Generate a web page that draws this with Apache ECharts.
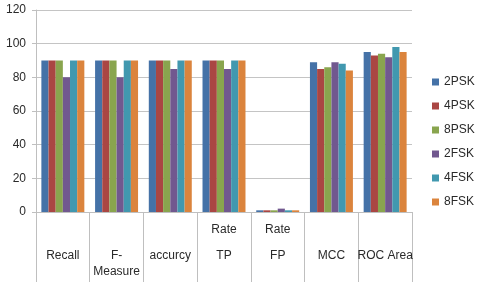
<!DOCTYPE html>
<html><head><meta charset="utf-8">
<script src="https://cdn.jsdelivr.net/npm/echarts@6/dist/echarts.min.js"></script>
<style>html,body{margin:0;padding:0;background:#fff}#c{width:480px;height:286px}</style>
</head><body><div id="c"></div>
<script>
var categories = ['Recall', 'F-Measure', 'accurcy', 'TP Rate', 'FP Rate', 'MCC', 'ROC Area'];
var yTicks = [0, 20, 40, 60, 80, 100, 120];
var s2PSK = [90, 90, 90, 90, 1, 89, 95];
var s4PSK = [90, 90, 90, 90, 1, 85, 93];
var s8PSK = [90, 90, 90, 90, 1, 86, 94];
var s2FSK = [80, 80, 85, 85, 2, 89, 92];
var s4FSK = [90, 90, 90, 90, 1, 88, 98];
var s8FSK = [90, 90, 90, 90, 1, 84, 95];
var seriesNames = ['2PSK', '4PSK', '8PSK', '2FSK', '4FSK', '8FSK'];
var seriesData = [s2PSK, s4PSK, s8PSK, s2FSK, s4FSK, s8FSK];
var colors = ['#4572A7', '#AA4643', '#89A54E', '#71588F', '#4198AF', '#DB843D'];

var FONT = '"Liberation Sans", Arial, sans-serif';
var TXT = '#2a2a2a';
var labelMap = {
  'Recall': '{b| }\n{c|Recall}',
  'F-Measure': '{b| }\n{c|F-}\n{c|Measure}',
  'accurcy': '{b| }\n{c|accurcy}',
  'TP Rate': '{a|Rate}\n{a|TP}',
  'FP Rate': '{a|Rate}\n{a|FP}',
  'MCC': '{b| }\n{c|MCC}',
  'ROC Area': '{b| }\n{c|ROC Area}'
};

var chart = echarts.init(document.getElementById('c'), null, {renderer: 'canvas'});
chart.setOption({
  animation: false,
  color: colors,
  grid: {left: 36, right: 68, top: 10, bottom: 74},
  legend: {
    orient: 'vertical', left: 432, top: 75, padding: 0,
    itemWidth: 7, itemHeight: 7, itemGap: 10, itemTextGap: 5,
    icon: 'rect',
    textStyle: {fontFamily: FONT, fontSize: 12, color: TXT, lineHeight: 14},
    data: seriesNames
  },
  xAxis: {
    type: 'category', data: categories, boundaryGap: true,
    axisLine: {lineStyle: {color: '#bfbfbf'}},
    axisTick: {show: true, length: 70, interval: 0, lineStyle: {color: '#bfbfbf'}},
    axisLabel: {
      interval: 0, margin: 5, color: TXT, fontFamily: FONT, fontSize: 12,
      formatter: function (v) { return labelMap[v] || v; },
      rich: {
        a: {lineHeight: 26, fontFamily: FONT, fontSize: 12, color: TXT},
        b: {lineHeight: 31, fontFamily: FONT, fontSize: 12},
        c: {lineHeight: 16, fontFamily: FONT, fontSize: 12, color: TXT}
      }
    }
  },
  yAxis: {
    type: 'value', min: yTicks[0], max: yTicks[yTicks.length - 1], interval: 20,
    axisLine: {show: true, lineStyle: {color: '#bfbfbf'}},
    axisTick: {show: true, length: 4, lineStyle: {color: '#bfbfbf'}},
    splitLine: {lineStyle: {color: '#c4c4c4'}},
    axisLabel: {margin: 10, color: TXT, fontFamily: FONT, fontSize: 12}
  },
  series: seriesNames.map(function (n, i) {
    return {
      name: n, type: 'bar', data: seriesData[i],
      barGap: '0%', barCategoryGap: '20%'
    };
  })
});
</script></body></html>
